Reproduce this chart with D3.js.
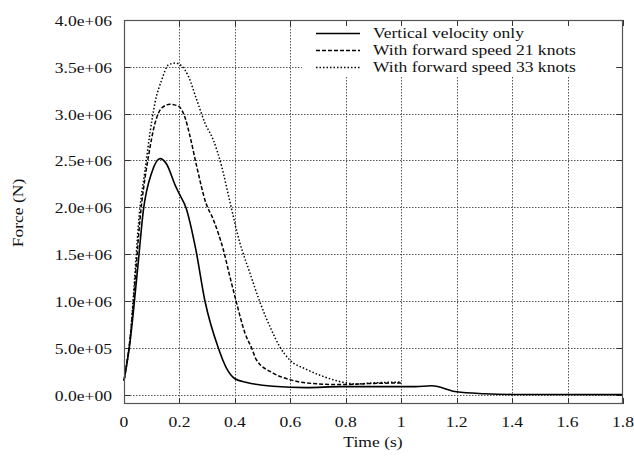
<!DOCTYPE html>
<html>
<head>
<meta charset="utf-8">
<script src="https://cdn.jsdelivr.net/npm/d3@7"></script>
<style>
  html, body { margin: 0; padding: 0; background: #fff; }
  svg text { font-family: "Liberation Serif", "DejaVu Serif", serif; fill: #111; }
</style>
</head>
<body>
<svg id="chart" width="634" height="458"></svg>
<script>
// ---- Data ----
const xTicks = [0, 0.2, 0.4, 0.6, 0.8, 1, 1.2, 1.4, 1.6, 1.8];
const yTicks = [0, 5e5, 1e6, 1.5e6, 2e6, 2.5e6, 3e6, 3.5e6, 4e6];
const yTickLabels = ["0.0e+00", "5.0e+05", "1.0e+06", "1.5e+06", "2.0e+06",
  "2.5e+06", "3.0e+06", "3.5e+06", "4.0e+06"];

const verticalOnly = [
  [0, 0.15e6], [0.02, 0.52e6], [0.05, 1.37e6], [0.07, 1.97e6], [0.1, 2.37e6],
  [0.13, 2.52e6], [0.154, 2.46e6], [0.184, 2.24e6], [0.2, 2.14e6], [0.223, 2.0e6],
  [0.259, 1.55e6], [0.292, 1.0e6], [0.34, 0.5e6], [0.37, 0.28e6], [0.4, 0.17e6],
  [0.443, 0.13e6], [0.537, 0.09e6], [0.66, 0.075e6], [0.78, 0.085e6], [0.96, 0.085e6],
  [1.05, 0.085e6], [1.11, 0.095e6], [1.2, 0.03e6], [1.3, 0.01e6], [1.4, 0.002e6],
  [1.8, 0]
];
const speed21 = [
  [0, 0.15e6], [0.02, 0.55e6], [0.064, 2.05e6], [0.088, 2.54e6], [0.112, 2.9e6],
  [0.136, 3.06e6], [0.166, 3.1e6], [0.196, 3.08e6], [0.22, 2.96e6], [0.238, 2.76e6],
  [0.262, 2.44e6], [0.295, 2.05e6], [0.322, 1.87e6], [0.358, 1.55e6], [0.382, 1.26e6],
  [0.406, 0.98e6], [0.436, 0.66e6], [0.46, 0.5e6], [0.478, 0.37e6], [0.538, 0.23e6],
  [0.598, 0.16e6], [0.658, 0.125e6], [0.778, 0.107e6], [0.9, 0.12e6], [1.0, 0.125e6]
];
const speed33 = [
  [0, 0.15e6], [0.02, 0.55e6], [0.058, 2.01e6], [0.076, 2.4e6], [0.094, 2.8e6],
  [0.112, 3.12e6], [0.136, 3.36e6], [0.16, 3.52e6], [0.184, 3.54e6], [0.208, 3.51e6],
  [0.232, 3.4e6], [0.262, 3.15e6], [0.292, 2.9e6], [0.322, 2.72e6], [0.352, 2.44e6],
  [0.382, 2.06e6], [0.418, 1.62e6], [0.454, 1.3e6], [0.49, 0.99e6], [0.532, 0.69e6],
  [0.562, 0.51e6], [0.598, 0.37e6], [0.658, 0.27e6], [0.718, 0.195e6], [0.778, 0.14e6],
  [0.838, 0.114e6], [0.9, 0.125e6], [1.0, 0.135e6]
];

const seriesNames = ["Vertical velocity only", "With forward speed 21 knots", "With forward speed 33 knots"];
const seriesDash = [null, "4,2", "1.5,2"];
const seriesData = [verticalOnly, speed21, speed33];

// ---- Layout ----
const svg = d3.select("#chart");
const plotL = 124, plotR = 623, plotT = 20, plotB = 404;
const fs = 15;        // font size
const sx = 1.17;      // the reference type is a little wide

const x = d3.scaleLinear().domain([0, 1.8]).range([plotL, plotR]);
const y = d3.scaleLinear().domain([-1e5, 4e6]).range([plotB, plotT]);

// text helper: wide serif, positioned by transform
function label(parent, tx, ty, str, anchor, rot) {
  return parent.append("text")
    .attr("transform", `translate(${tx},${ty})` + (rot ? ` rotate(${rot})` : "") + ` scale(${sx},1)`)
    .attr("text-anchor", anchor || "start")
    .attr("font-size", fs)
    .text(str);
}

// grid
const grid = svg.append("g").attr("stroke", "#555").attr("stroke-width", 1)
  .attr("stroke-dasharray", "1.5,1.5");
grid.selectAll("line.gx").data(xTicks.slice(1, -1)).join("line")
  .attr("x1", d => Math.round(x(d)) + 0.5).attr("x2", d => Math.round(x(d)) + 0.5)
  .attr("y1", plotT).attr("y2", plotB);
grid.selectAll("line.gy").data(yTicks.slice(0, -1)).join("line")
  .attr("y1", d => Math.round(y(d)) + 0.5).attr("y2", d => Math.round(y(d)) + 0.5)
  .attr("x1", plotL).attr("x2", plotR);

// inward ticks on all sides
const ticks = svg.append("g").attr("stroke", "#333").attr("stroke-width", 1);
xTicks.forEach(t => {
  const px = Math.round(x(t)) + 0.5;
  ticks.append("line").attr("x1", px).attr("x2", px).attr("y1", plotB).attr("y2", plotB - 6);
  ticks.append("line").attr("x1", px).attr("x2", px).attr("y1", plotT).attr("y2", plotT + 6);
});
yTicks.forEach(t => {
  const py = Math.round(y(t)) + 0.5;
  ticks.append("line").attr("x1", plotL).attr("x2", plotL + 6).attr("y1", py).attr("y2", py);
  ticks.append("line").attr("x1", plotR).attr("x2", plotR - 6).attr("y1", py).attr("y2", py);
});

// legend backdrop hides the grid
svg.append("rect").attr("x", 302).attr("y", 26).attr("width", 314).attr("height", 51)
  .attr("fill", "#fff");

// curves
const line = d3.line().x(d => x(d[0])).y(d => y(d[1])).curve(d3.curveMonotoneX);
seriesData.forEach((data, i) => {
  svg.append("path").datum(data)
    .attr("d", line)
    .attr("fill", "none")
    .attr("stroke", "#000")
    .attr("stroke-width", i === 0 ? 1.6 : 1.5)
    .attr("stroke-dasharray", seriesDash[i]);
});

// border
svg.append("rect").attr("x", plotL + 0.5).attr("y", plotT + 0.5)
  .attr("width", plotR - plotL - 1).attr("height", plotB - plotT - 1)
  .attr("fill", "none").attr("stroke", "#555").attr("stroke-width", 1.2);

// tick labels
const xl = svg.append("g");
xTicks.forEach(t => label(xl, x(t), 427, String(t), "middle"));
const yl = svg.append("g");
yTicks.forEach((t, i) => label(yl, 112, Math.round(y(t)) + 6, yTickLabels[i], "end"));

// axis titles
label(svg, 373, 447, "Time (s)", "middle");
label(svg, 23, 213, "Force (N)", "middle", -90);

// legend
const legend = svg.append("g");
seriesNames.forEach((name, i) => {
  const ly = 33 + i * 17;
  legend.append("line").attr("x1", 316).attr("x2", 360).attr("y1", ly + 0.5).attr("y2", ly + 0.5)
    .attr("stroke", "#000").attr("stroke-width", 1.5).attr("stroke-dasharray", seriesDash[i]);
  label(legend, 373, ly + 5, name, "start");
});
</script>
</body>
</html>
